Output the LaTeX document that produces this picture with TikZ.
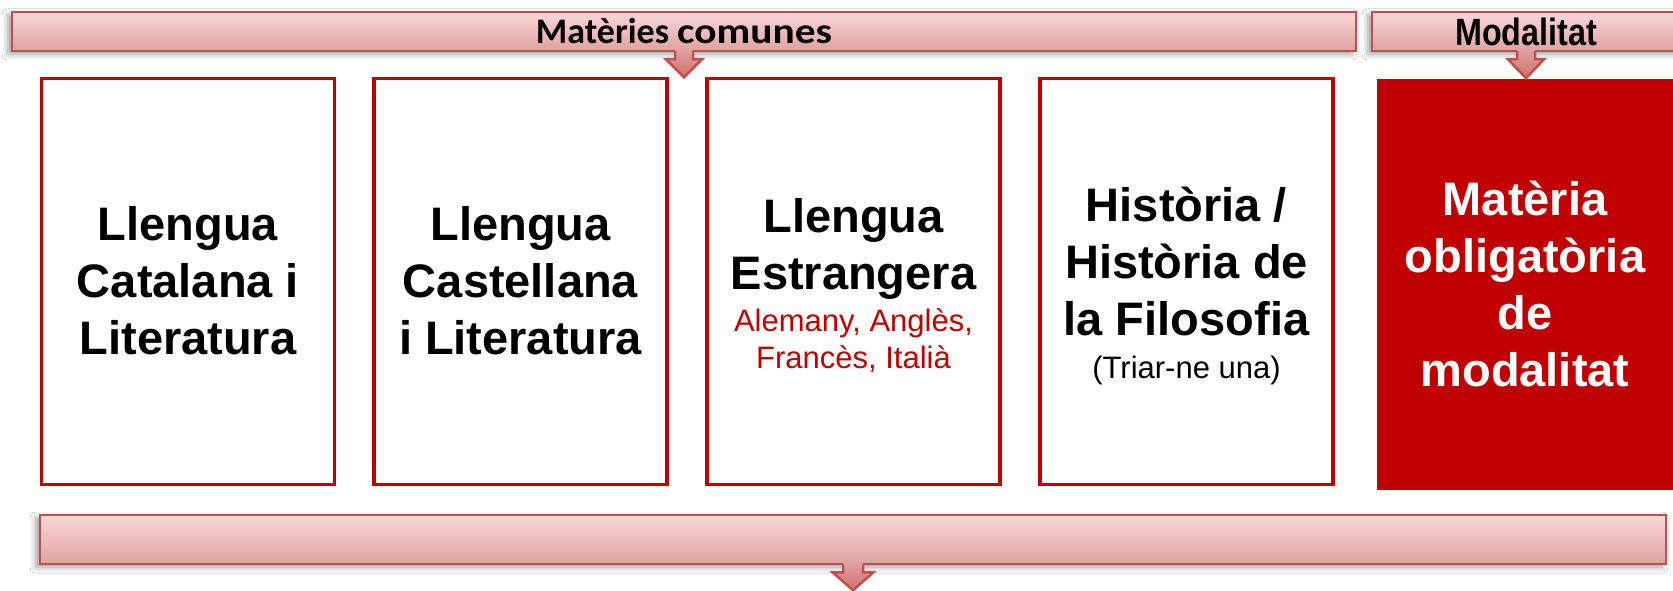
\documentclass[tikz,border=0pt]{standalone}
\usepackage{fontspec}
\setmainfont{Liberation Sans}
\newfontfamily\hdrfont{Carlito}
\newfontfamily\hdrwidefont[FakeStretch=1.15]{Carlito}
\newfontfamily\narrowfont[FakeStretch=0.85]{Liberation Sans}
\usetikzlibrary{calc,shadows.blur}
\definecolor{boxred}{RGB}{192,0,0}
\definecolor{bnborder}{RGB}{192,80,77}
\definecolor{bntop}{RGB}{250,216,216}
\definecolor{bnbot}{RGB}{222,162,161}
\definecolor{artop}{RGB}{226,160,159}
\definecolor{arbot}{RGB}{205,112,110}
\tikzset{
  banner/.style={rectangle, draw=bnborder, line width=2.5pt, top color=bntop, bottom color=bnbot, inner sep=0pt,
    blur shadow={shadow xshift=-4pt, shadow yshift=-3pt, shadow blur radius=6pt, shadow opacity=40}},
  subjbox/.style={rectangle, draw=boxred, line width=3.5pt, fill=white, inner sep=0pt,
    minimum width=293pt, minimum height=405.5pt},
  modbox/.style={rectangle, fill=boxred, inner sep=0pt, minimum width=296pt, minimum height=411pt},
  boxtext/.style={align=center, inner sep=0pt, font=\bfseries\fontsize{47}{57}\selectfont},
  arrowfill/.style={top color=artop, bottom color=arbot},
  arrowline/.style={draw=bnborder, line width=2.5pt, line join=miter},
}
\newcommand\blkarrow[5]{%
  \path[arrowfill] ($(#1)+(-#2,-2.5)$) -- ++(0,#3+2.5) -- ++(-#4+#2,0) -- ++(#4,#5) -- ++(#4,-#5) -- ++(-#4+#2,0) -- ++(0,-#3-2.5) -- cycle;
  \draw[arrowline] ($(#1)+(-#2,-1)$) -- ++(0,#3+1) -- ++(-#4+#2,0) -- ++(#4,#5) -- ++(#4,-#5) -- ++(-#4+#2,0) -- ++(0,-#3-1);
}
\newcommand\redsub[1]{{\color{boxred}\mdseries\fontsize{31}{37}\selectfont #1}}
\begin{document}
\begin{tikzpicture}[x=1pt,y=-1pt]
\useasboundingbox (0,0) rectangle (1673,591);
\clip (0,0) rectangle (1673,591);
\fill[white] (0,0) rectangle (1673,591);

% banners
\node[banner, minimum width=1344pt, minimum height=39pt] (b1) at (684,31.5)
  {\hdrfont\bfseries\fontsize{36}{40}\selectfont Matèries {\hdrwidefont comunes}};
\node[banner, minimum width=308pt, minimum height=39pt] (b2) at (1526,31.5)
  {\narrowfont\bfseries\fontsize{38}{42}\selectfont Modalitat};
\node[banner, minimum width=1626pt, minimum height=49pt] (b3) at (853,539.5) {};

% subject boxes
\node[subjbox] (c1) at (188,281.5) {};
\node[subjbox] (c2) at (520.5,281.5) {};
\node[subjbox] (c3) at (853.5,281.5) {};
\node[subjbox] (c4) at (1186.5,281.5) {};
\node[modbox] (c5) at (1525,284.5) {};

\node[boxtext] (t1) at (188,280.5) {Llengua\\Catalana i\\Literatura};
\node[boxtext] (t2) at (520.5,280.5) {Llengua\\Castellana\\i Literatura};
\node[boxtext] (t3) at (853.5,285.6) {Llengua\\Estrangera\\[-15pt]\redsub{Alemany, Anglès,}\\[-20pt]\redsub{Francès, Italià}};
\node[boxtext] (t4) at (1186.5,285.6) {Història /\\Història de\\la Filosofia\\[-14pt]{\mdseries\fontsize{31}{37}\selectfont (Triar-ne una)}};
\node[boxtext, text=white] (t5) at (1525,283.6) {Matèria\\obligatòria\\de\\modalitat};

% block arrows
\blkarrow{b1.south}{9}{7}{18}{18}
\blkarrow{b2.south}{9}{7}{18}{19}
\blkarrow{b3.south}{10}{7}{20.5}{18}
\end{tikzpicture}
\end{document}
